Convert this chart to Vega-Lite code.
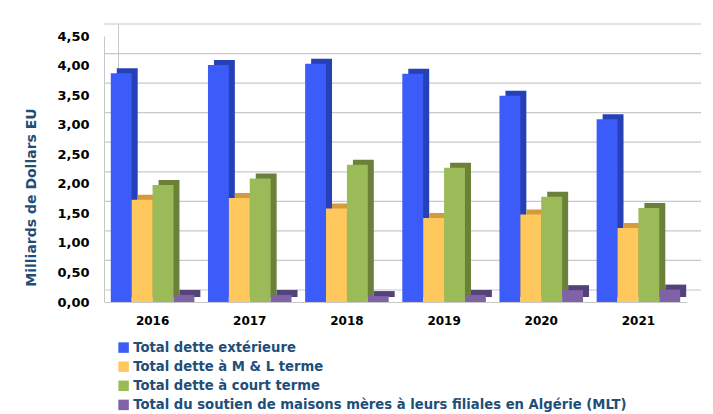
{
  "$schema": "https://vega.github.io/schema/vega-lite/v6.json",
  "autosize": "none",
  "width": 583,
  "height": 266,
  "padding": {"left": 104, "top": 36, "right": 26, "bottom": 112},
  "background": "#ffffff",
  "datasets": {
    "bars": [
      {"year": "2016", "series": "Total dette extérieure", "value": 3.87},
      {"year": "2016", "series": "Total dette à M & L terme", "value": 1.73},
      {"year": "2016", "series": "Total dette à court  terme", "value": 1.98},
      {"year": "2016", "series": "Total du soutien de maisons mères à leurs filiales en Algérie (MLT)", "value": 0.12},
      {"year": "2017", "series": "Total dette extérieure", "value": 4.01},
      {"year": "2017", "series": "Total dette à M & L terme", "value": 1.76},
      {"year": "2017", "series": "Total dette à court  terme", "value": 2.09},
      {"year": "2017", "series": "Total du soutien de maisons mères à leurs filiales en Algérie (MLT)", "value": 0.12},
      {"year": "2018", "series": "Total dette extérieure", "value": 4.03},
      {"year": "2018", "series": "Total dette à M & L terme", "value": 1.58},
      {"year": "2018", "series": "Total dette à court  terme", "value": 2.32},
      {"year": "2018", "series": "Total du soutien de maisons mères à leurs filiales en Algérie (MLT)", "value": 0.1},
      {"year": "2019", "series": "Total dette extérieure", "value": 3.86},
      {"year": "2019", "series": "Total dette à M & L terme", "value": 1.42},
      {"year": "2019", "series": "Total dette à court  terme", "value": 2.27},
      {"year": "2019", "series": "Total du soutien de maisons mères à leurs filiales en Algérie (MLT)", "value": 0.12},
      {"year": "2020", "series": "Total dette extérieure", "value": 3.49},
      {"year": "2020", "series": "Total dette à M & L terme", "value": 1.48},
      {"year": "2020", "series": "Total dette à court  terme", "value": 1.78},
      {"year": "2020", "series": "Total du soutien de maisons mères à leurs filiales en Algérie (MLT)", "value": 0.2},
      {"year": "2021", "series": "Total dette extérieure", "value": 3.09},
      {"year": "2021", "series": "Total dette à M & L terme", "value": 1.25},
      {"year": "2021", "series": "Total dette à court  terme", "value": 1.59},
      {"year": "2021", "series": "Total du soutien de maisons mères à leurs filiales en Algérie (MLT)", "value": 0.21}
    ],
    "ticks": [
      {"v": 0}, {"v": 0.5}, {"v": 1}, {"v": 1.5}, {"v": 2}, {"v": 2.5}, {"v": 3}, {"v": 3.5}, {"v": 4}, {"v": 4.5}
    ]
  },
  "layer": [
    {
      "data": {"name": "ticks"},
      "mark": {"type": "rule", "color": "#c8c8c8", "strokeWidth": 1.2, "xOffset": 14, "x2Offset": 14},
      "encoding": {
        "y": {
          "field": "v", "type": "quantitative",
          "scale": {"domain": [0, 4.5], "range": [254, -12], "nice": false, "zero": false},
          "axis": {"orient": "left", "offset": -14, "labels": false, "ticks": false, "grid": false, "domainColor": "#c8c8c8", "title": null}
        }
      }
    },
    {
      "data": {"name": "bars"},
      "mark": {"type": "bar", "yOffset": -5, "y2Offset": -5},
      "encoding": {
        "x": {"field": "year", "type": "nominal", "scale": {"paddingInner": 0.14, "paddingOuter": 0.07, "range": [6, 589]}, "axis": null},
        "xOffset": {"field": "series", "type": "nominal", "sort": ["Total dette extérieure", "Total dette à M & L terme", "Total dette à court  terme", "Total du soutien de maisons mères à leurs filiales en Algérie (MLT)"]},
        "y": {"field": "value", "type": "quantitative", "scale": {"domain": [0, 4.5], "range": [266, 0], "nice": false}, "axis": null},
        "color": {
          "field": "series", "type": "nominal",
          "sort": ["Total dette extérieure", "Total dette à M & L terme", "Total dette à court  terme", "Total du soutien de maisons mères à leurs filiales en Algérie (MLT)"],
          "scale": {"range": ["#2640b8", "#d49a3c", "#6b8038", "#54427a"]},
          "legend": null
        }
      }
    },
    {
      "data": {"name": "bars"},
      "mark": {"type": "bar"},
      "encoding": {
        "x": {
          "field": "year", "type": "nominal", "scale": {"paddingInner": 0.14, "paddingOuter": 0.07},
          "axis": {"title": null, "labelAngle": 0, "labelFont": "DejaVu Sans", "labelFontWeight": "bold", "labelFontSize": 12, "labelColor": "#000000", "labelPadding": 13, "ticks": false, "domainColor": "#c8c8c8"}
        },
        "xOffset": {"field": "series", "type": "nominal", "sort": ["Total dette extérieure", "Total dette à M & L terme", "Total dette à court  terme", "Total du soutien de maisons mères à leurs filiales en Algérie (MLT)"]},
        "y": {
          "field": "value", "type": "quantitative", "scale": {"domain": [0, 4.5], "range": [266, 0], "nice": false},
          "axis": {"orient": "left", "values": [0, 0.5, 1, 1.5, 2, 2.5, 3, 3.5, 4, 4.5], "labelExpr": "replace(format(datum.value, '.2f'), '.', ',')", "grid": false, "ticks": false, "domainColor": "#c8c8c8", "labelFont": "DejaVu Sans", "labelFontWeight": "bold", "labelFontSize": 13, "labelColor": "#000000", "labelPadding": 15, "title": "Milliards de Dollars EU", "titleFont": "DejaVu Sans", "titleFontWeight": "bold", "titleFontSize": 14, "titleColor": "#1f4e79", "titlePadding": 18, "titleY": 161}
        },
        "color": {
          "field": "series", "type": "nominal",
          "sort": ["Total dette extérieure", "Total dette à M & L terme", "Total dette à court  terme", "Total du soutien de maisons mères à leurs filiales en Algérie (MLT)"],
          "scale": {"range": ["#3b5cf9", "#ffc85c", "#9bbb59", "#7f63a6"]},
          "legend": {"orient": "none", "legendX": 13, "legendY": 305, "title": null, "symbolType": "square", "symbolSize": 110, "symbolStrokeWidth": 0, "labelFont": "DejaVu Sans", "labelFontWeight": "bold", "labelFontSize": 13.2, "labelColor": "#1f4e79", "labelLimit": 0, "rowPadding": 5.1, "labelOffset": 3}
        }
      }
    }
  ],
  "resolve": {"scale": {"x": "independent", "xOffset": "independent", "y": "independent", "color": "independent"}},
  "config": {"view": {"stroke": null}}
}
